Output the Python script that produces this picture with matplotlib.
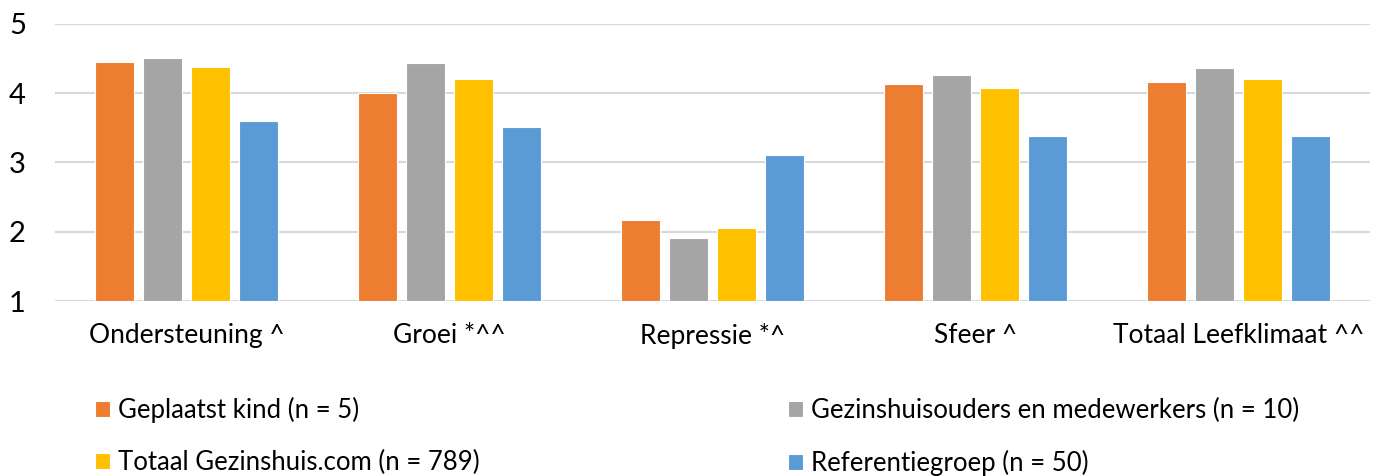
import numpy as np
import matplotlib
matplotlib.use("Agg")
import matplotlib.pyplot as plt

# data
categories = ["Ondersteuning ^", "Groei *^^", "Repressie *^", "Sfeer ^", "Totaal Leefklimaat ^^"]
series_names = ["Geplaatst kind (n = 5)", "Gezinshuisouders en medewerkers (n = 10)",
                "Totaal Gezinshuis.com (n = 789)", "Referentiegroep (n = 50)"]
geplaatst = [4.45, 4.01, 2.17, 4.14, 4.16]
gezinshuisouders = [4.51, 4.43, 1.91, 4.27, 4.36]
totaal = [4.38, 4.21, 2.06, 4.08, 4.20]
referentie = [3.60, 3.51, 3.11, 3.38, 3.38]
y_ticks = [1, 2, 3, 4, 5]

colors = ["#ED7D31", "#A5A5A5", "#FFC000", "#5B9BD5"]
values = [geplaatst, gezinshuisouders, totaal, referentie]

plt.rcParams['font.family'] = ['Lato', 'DejaVu Sans']

fig = plt.figure(figsize=(13.85, 4.76), dpi=100)
ax = fig.add_axes([55 / 1385, 175 / 476, (1370 - 55) / 1385, 277 / 476])

x = np.arange(len(categories))
pitch = 0.1825
width = 0.145
bars = []
for i, (vals, col) in enumerate(zip(values, colors)):
    offs = (i - 1.5) * pitch
    b = ax.bar(x + offs, np.array(vals) - 1, width, bottom=1, color=col,
               edgecolor="white", linewidth=0.8, label=series_names[i], zorder=3)
    bars.append(b)

ax.set_xlim(-0.5, len(categories) - 0.5)
ax.set_ylim(1, 5)
ax.set_yticks(y_ticks)
ax.set_yticklabels([str(t) for t in y_ticks], fontsize=21)
ax.set_xticks(x)
ax.set_xticklabels(categories, fontsize=19)
ax.tick_params(axis="both", length=0, colors="#000000")
ax.tick_params(axis="y", pad=21)
ax.tick_params(axis="x", pad=16)
ax.yaxis.grid(True, color="#d9d9d9", linewidth=1.5, zorder=0)
ax.set_axisbelow(True)
for s in ax.spines.values():
    s.set_visible(False)

# legend order: column-major, so orange/yellow in column 1, gray/blue in column 2
handles = [bars[0], bars[2], bars[1], bars[3]]
labels = [series_names[0], series_names[2], series_names[1], series_names[3]]
fig.legend(handles, labels, ncol=2, loc="upper left",
           bbox_to_anchor=(95 / 1385, 1 - 397 / 476), frameon=False, fontsize=18.5,
           handlelength=0.6, handleheight=0.6, handletextpad=0.3,
           columnspacing=12.0, labelspacing=1.05, borderaxespad=0, borderpad=0)

fig.savefig("out.png", dpi=100)
